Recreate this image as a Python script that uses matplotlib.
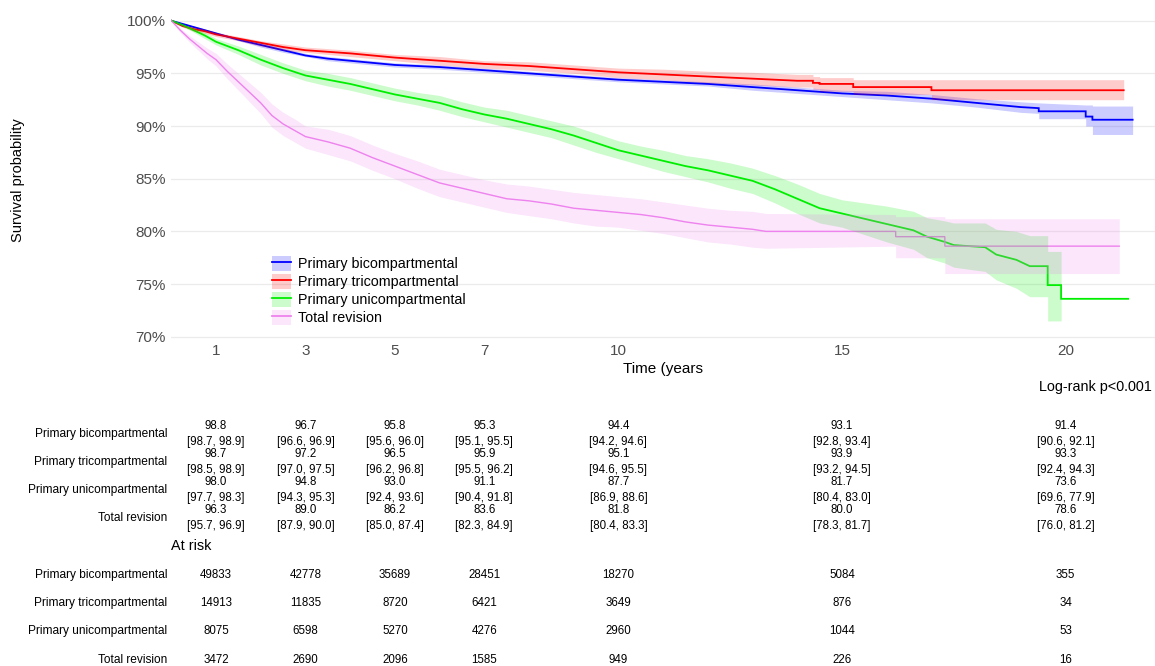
import numpy as np
import matplotlib
matplotlib.use("Agg")
import matplotlib.pyplot as plt
from matplotlib.patches import Patch
from matplotlib.lines import Line2D
from matplotlib.transforms import blended_transform_factory

plt.rcParams["font.family"] = ["Liberation Sans", "DejaVu Sans"]

# ---------------- data ----------------
groups = ["Primary bicompartmental", "Primary tricompartmental",
          "Primary unicompartmental", "Total revision"]
colors = ["#0000FF", "#FF0000", "#00EE00", "#EE82EE"]

# Kaplan-Meier curves as knots (time in years, survival, 95% CI);
# a repeated time marks a vertical drop of the step function.
t_bi = [0, 0.25, 0.5, 0.75, 1.0, 1.5, 2.0, 2.5, 3.0, 3.5, 4.0, 5.0, 6.0, 7.0, 8.0,
        9.0, 10.0, 11.0, 12.0, 13.0, 14.0, 15.0, 16.0, 17.0, 18.0, 19.0, 19.4, 19.4,
        20.45, 20.45, 20.6, 20.6, 21.5]
s_bi = [1.000, 0.997, 0.994, 0.991, 0.988, 0.982, 0.977, 0.972, 0.967, 0.964, 0.962,
        0.958, 0.956, 0.953, 0.950, 0.947, 0.944, 0.942, 0.940, 0.937, 0.934, 0.931,
        0.929, 0.926, 0.922, 0.918, 0.917, 0.914, 0.914, 0.909, 0.909, 0.906, 0.906]
lo_bi = [1.000, 0.996, 0.993, 0.990, 0.987, 0.981, 0.975, 0.970, 0.966, 0.962, 0.960,
         0.956, 0.954, 0.951, 0.948, 0.945, 0.942, 0.940, 0.938, 0.934, 0.931, 0.928,
         0.925, 0.922, 0.918, 0.913, 0.912, 0.907, 0.907, 0.900, 0.900, 0.892, 0.892]
hi_bi = [1.000, 0.998, 0.995, 0.992, 0.989, 0.983, 0.979, 0.974, 0.969, 0.966, 0.964,
         0.960, 0.958, 0.955, 0.952, 0.949, 0.946, 0.944, 0.942, 0.940, 0.937, 0.934,
         0.933, 0.930, 0.926, 0.923, 0.922, 0.922, 0.920, 0.920, 0.920, 0.919, 0.919]

t_tri = [0, 0.25, 0.5, 0.75, 1.0, 1.5, 2.0, 2.5, 3.0, 4.0, 5.0, 6.0, 7.0, 8.0, 9.0,
         10.0, 11.0, 12.0, 13.0, 14.0, 14.35, 14.35, 14.5, 14.5, 15.25, 15.25, 17.0,
         17.0, 21.3]
s_tri = [1.000, 0.995, 0.992, 0.990, 0.987, 0.983, 0.979, 0.975, 0.972, 0.969, 0.965,
         0.962, 0.959, 0.957, 0.954, 0.951, 0.949, 0.947, 0.945, 0.943, 0.943, 0.941,
         0.941, 0.940, 0.940, 0.937, 0.937, 0.934, 0.934]
lo_tri = [1.000, 0.994, 0.990, 0.988, 0.985, 0.981, 0.976, 0.972, 0.970, 0.966, 0.962,
          0.958, 0.955, 0.953, 0.950, 0.946, 0.944, 0.941, 0.939, 0.937, 0.937, 0.935,
          0.935, 0.933, 0.933, 0.930, 0.930, 0.925, 0.925]
hi_tri = [1.000, 0.996, 0.994, 0.992, 0.989, 0.985, 0.981, 0.978, 0.975, 0.972, 0.968,
          0.966, 0.962, 0.961, 0.958, 0.955, 0.954, 0.952, 0.951, 0.949, 0.949, 0.947,
          0.947, 0.946, 0.946, 0.944, 0.944, 0.944, 0.944]

t_uni = [0, 0.25, 0.5, 0.75, 1.0, 1.5, 2.0, 2.5, 3.0, 3.5, 4.0, 4.5, 5.0, 5.5, 6.0,
         6.5, 7.0, 7.5, 8.0, 8.5, 9.0, 9.5, 10.0, 10.5, 11.0, 11.5, 12.0, 12.5, 13.0,
         13.5, 14.0, 14.5, 15.0, 15.5, 16.0, 16.6, 16.9, 17.3, 17.5, 18.2, 18.45,
         18.9, 19.2, 19.6, 19.6, 19.9, 19.9, 21.4]
s_uni = [1.000, 0.996, 0.991, 0.986, 0.980, 0.972, 0.963, 0.955, 0.948, 0.944, 0.940,
         0.935, 0.930, 0.926, 0.922, 0.916, 0.911, 0.907, 0.902, 0.897, 0.891, 0.884,
         0.877, 0.872, 0.867, 0.862, 0.858, 0.853, 0.848, 0.840, 0.831, 0.822, 0.817,
         0.812, 0.807, 0.801, 0.795, 0.790, 0.787, 0.785, 0.778, 0.773, 0.767, 0.767,
         0.749, 0.749, 0.736, 0.736]
lo_uni = [1.000, 0.995, 0.989, 0.983, 0.977, 0.968, 0.958, 0.950, 0.943, 0.938, 0.934,
          0.929, 0.924, 0.920, 0.915, 0.909, 0.904, 0.899, 0.894, 0.889, 0.882, 0.875,
          0.869, 0.863, 0.857, 0.852, 0.847, 0.841, 0.836, 0.827, 0.817, 0.808, 0.804,
          0.797, 0.790, 0.783, 0.775, 0.770, 0.766, 0.762, 0.754, 0.746, 0.738, 0.738,
          0.715, 0.715, np.nan, np.nan]
hi_uni = [1.000, 0.997, 0.993, 0.989, 0.983, 0.976, 0.968, 0.960, 0.953, 0.950, 0.946,
          0.941, 0.936, 0.932, 0.929, 0.923, 0.918, 0.915, 0.910, 0.905, 0.900, 0.893,
          0.886, 0.881, 0.877, 0.872, 0.869, 0.865, 0.860, 0.853, 0.845, 0.836, 0.830,
          0.827, 0.824, 0.819, 0.813, 0.810, 0.808, 0.808, 0.802, 0.800, 0.796, 0.796,
          0.781, 0.781, np.nan, np.nan]

t_rev = [0, 0.2, 0.4, 0.6, 0.8, 1.0, 1.25, 1.5, 1.75, 2.0, 2.25, 2.5, 2.75, 3.0, 3.5,
         4.0, 4.5, 5.0, 5.5, 6.0, 6.5, 7.0, 7.5, 8.0, 8.5, 9.0, 9.5, 10.0, 10.5, 11.0,
         11.5, 12.0, 12.5, 13.0, 13.3, 16.2, 16.2, 17.3, 17.3, 21.2]
s_rev = [1.000, 0.991, 0.983, 0.976, 0.969, 0.963, 0.952, 0.942, 0.932, 0.922, 0.910,
         0.902, 0.896, 0.890, 0.885, 0.879, 0.870, 0.862, 0.854, 0.846, 0.841, 0.836,
         0.831, 0.829, 0.826, 0.822, 0.820, 0.818, 0.816, 0.813, 0.809, 0.806, 0.804,
         0.802, 0.800, 0.800, 0.795, 0.795, 0.786, 0.786]
lo_rev = [1.000, 0.989, 0.980, 0.972, 0.964, 0.957, 0.945, 0.934, 0.923, 0.912, 0.899,
          0.891, 0.885, 0.879, 0.873, 0.867, 0.858, 0.850, 0.841, 0.833, 0.828, 0.823,
          0.818, 0.815, 0.812, 0.808, 0.805, 0.804, 0.801, 0.798, 0.794, 0.790, 0.788,
          0.785, 0.784, 0.786, 0.775, 0.775, 0.760, 0.760]
hi_rev = [1.000, 0.993, 0.986, 0.980, 0.974, 0.969, 0.959, 0.950, 0.941, 0.932, 0.921,
          0.913, 0.907, 0.900, 0.897, 0.891, 0.882, 0.874, 0.867, 0.859, 0.854, 0.849,
          0.845, 0.843, 0.840, 0.837, 0.835, 0.833, 0.831, 0.828, 0.825, 0.822, 0.820,
          0.819, 0.817, 0.816, 0.814, 0.814, 0.812, 0.812]

# summary table at selected time points
table_times = [1, 3, 5, 7, 10, 15, 20]
est_bi = ["98.8", "96.7", "95.8", "95.3", "94.4", "93.1", "91.4"]
ci_bi = ["[98.7, 98.9]", "[96.6, 96.9]", "[95.6, 96.0]", "[95.1, 95.5]",
         "[94.2, 94.6]", "[92.8, 93.4]", "[90.6, 92.1]"]
est_tri = ["98.7", "97.2", "96.5", "95.9", "95.1", "93.9", "93.3"]
ci_tri = ["[98.5, 98.9]", "[97.0, 97.5]", "[96.2, 96.8]", "[95.5, 96.2]",
          "[94.6, 95.5]", "[93.2, 94.5]", "[92.4, 94.3]"]
est_uni = ["98.0", "94.8", "93.0", "91.1", "87.7", "81.7", "73.6"]
ci_uni = ["[97.7, 98.3]", "[94.3, 95.3]", "[92.4, 93.6]", "[90.4, 91.8]",
          "[86.9, 88.6]", "[80.4, 83.0]", "[69.6, 77.9]"]
est_rev = ["96.3", "89.0", "86.2", "83.6", "81.8", "80.0", "78.6"]
ci_rev = ["[95.7, 96.9]", "[87.9, 90.0]", "[85.0, 87.4]", "[82.3, 84.9]",
          "[80.4, 83.3]", "[78.3, 81.7]", "[76.0, 81.2]"]

risk_bi = [49833, 42778, 35689, 28451, 18270, 5084, 355]
risk_tri = [14913, 11835, 8720, 6421, 3649, 876, 34]
risk_uni = [8075, 6598, 5270, 4276, 2960, 1044, 53]
risk_rev = [3472, 2690, 2096, 1585, 949, 226, 16]

y_ticks = [0.70, 0.75, 0.80, 0.85, 0.90, 0.95, 1.00]
y_ticklabels = ["70%", "75%", "80%", "85%", "90%", "95%", "100%"]

# ---------------- figure ----------------
W, H = 1155, 666
fig = plt.figure(figsize=(W / 100, H / 100), dpi=100)

x_left_px = 171.3
x_right_px = 1155.0
ax_bottom_px, ax_top_px = 339.9, 16.5
ax = fig.add_axes([x_left_px / W, 1 - ax_bottom_px / H,
                   (x_right_px - x_left_px) / W, (ax_bottom_px - ax_top_px) / H])
xlim = (0, 22.0)
ax.set_xlim(*xlim)
ax.set_ylim(0.697, 1.004)

series = [
    (t_bi, s_bi, lo_bi, hi_bi),
    (t_tri, s_tri, lo_tri, hi_tri),
    (t_uni, s_uni, lo_uni, hi_uni),
    (t_rev, s_rev, lo_rev, hi_rev),
]

# survival lines first, confidence ribbons on top
for (t, s, lo, hi), c in zip(series, colors):
    lw = 1.0 if c == "#EE82EE" else 1.3
    ax.plot(t, s, color=c, lw=lw, zorder=2, solid_joinstyle="miter")
for (t, s, lo, hi), c in zip(series, colors):
    ax.fill_between(t, lo, hi, color=c, alpha=0.2, lw=0, zorder=3)

ax.set_yticks(y_ticks)
ax.set_yticklabels(y_ticklabels)
ax.set_xticks(table_times)
ax.tick_params(axis="both", length=0, labelsize=11, labelcolor="#4D4D4D")
ax.tick_params(axis="y", pad=4)
ax.tick_params(axis="x", pad=3)
ax.grid(axis="y", color="#EBEBEB", lw=0.9)
ax.grid(axis="x", visible=False)
ax.set_axisbelow(True)
for sp in ax.spines.values():
    sp.set_visible(False)
ax.set_xlabel("Time (years", fontsize=11, color="black", labelpad=3)

handles = [(Patch(facecolor=c, alpha=0.2, lw=0), Line2D([], [], color=c, lw=1.3))
           for c in colors]
leg = ax.legend(handles, groups, loc="upper left", bbox_to_anchor=(0.1025, 0.259),
                frameon=False, fontsize=10.3, borderpad=0, borderaxespad=0,
                handlelength=1.35, handleheight=1.2, handletextpad=0.45,
                labelspacing=0.2)

fig.text(18 / W, 1 - 180 / H, "Survival probability", rotation=90,
         ha="center", va="center", fontsize=10.5)
fig.text(1152 / W, 1 - 387 / H, "Log-rank p<0.001", ha="right", va="center",
         fontsize=10.4)

# ---------------- tables below the plot ----------------
tab = fig.add_axes([x_left_px / W, 0, (x_right_px - x_left_px) / W, 266 / H])
tab.set_xlim(*xlim)
tab.set_ylim(666, 400)
tab.axis("off")
lab_tr = blended_transform_factory(tab.transAxes, tab.transData)
lab_x = -4 / (x_right_px - x_left_px)
fs_lab = 8.6
fs_num = 8.3

est_rows = [est_bi, est_tri, est_uni, est_rev]
ci_rows = [ci_bi, ci_tri, ci_uni, ci_rev]
row_y = [434, 462, 490, 518]
for name, ests, cis, y in zip(groups, est_rows, ci_rows, row_y):
    tab.text(lab_x, y, name, transform=lab_tr, ha="right", va="center", fontsize=fs_lab)
    for tt, e, ci in zip(table_times, ests, cis):
        tab.text(tt, y - 8, e, ha="center", va="center", fontsize=fs_num)
        tab.text(tt, y + 7.5, ci, ha="center", va="center", fontsize=fs_num)

tab.text(0.0, 546, "At risk", transform=lab_tr, ha="left", va="center", fontsize=10.4)
risk_rows = [risk_bi, risk_tri, risk_uni, risk_rev]
risk_y = [575, 603, 631, 660]
for name, counts, y in zip(groups, risk_rows, risk_y):
    tab.text(lab_x, y, name, transform=lab_tr, ha="right", va="center", fontsize=fs_lab)
    for tt, n in zip(table_times, counts):
        tab.text(tt, y, str(n), ha="center", va="center", fontsize=fs_num)

fig.savefig("out.png", dpi=100)
